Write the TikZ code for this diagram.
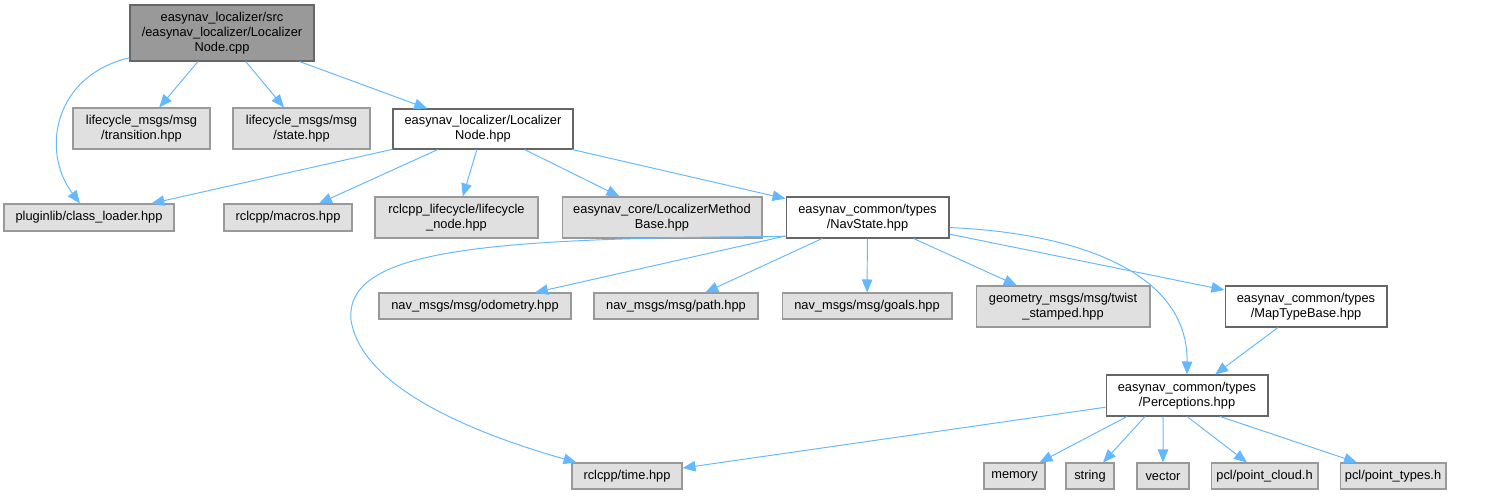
\documentclass[tikz,border=0pt]{standalone}
\usepackage{fontspec}
\setmainfont{Liberation Sans}
\usepackage{xcolor}
\usepackage{tikz}
\usetikzlibrary{arrows.meta}

\definecolor{edgeblue}{HTML}{63B8FF}
\definecolor{incfill}{HTML}{E0E0E0}
\definecolor{incdraw}{HTML}{999999}
\definecolor{hdrdraw}{HTML}{666666}
\definecolor{rootfill}{HTML}{999999}

\begin{document}
\begin{tikzpicture}[x=0.02cm, y=-0.02cm,
    every node/.style={font=\fontsize{7.3}{8.5}\selectfont, align=center, inner sep=0pt, line width=0.6pt},
    sysinc/.style={fill=incfill, draw=incdraw},
    localinc/.style={fill=white, draw=hdrdraw},
    rootfile/.style={fill=rootfill, draw=hdrdraw},
    dep/.style={draw=edgeblue, line width=0.55pt, -{Triangle[length=0.26cm, width=0.21cm]}}]
    \useasboundingbox (0, 0) rectangle (1507, 495);

    % Root file
    \node[rootfile, minimum width=3.68cm, minimum height=1.12cm] (cpp) at (222, 33)
    {easynav\_localizer/src\\/easynav\_localizer/Localizer\\Node.cpp};

    % First level
    \node[sysinc, minimum width=2.74cm, minimum height=0.82cm] (transition) at (141.5, 128.5)
    {lifecycle\_msgs/msg\\/transition.hpp};
    \node[sysinc, minimum width=2.74cm, minimum height=0.82cm] (state) at (301.5, 128.5)
    {lifecycle\_msgs/msg\\/state.hpp};
    \node[localinc, minimum width=3.6cm, minimum height=0.8cm] (lnode) at (483, 129)
    {easynav\_localizer/Localizer\\Node.hpp};

    % Second level
    \node[sysinc, minimum width=3.4cm, minimum height=0.54cm] (classloader) at (89, 217.5)
    {pluginlib/class\_loader.hpp};
    \node[sysinc, minimum width=2.56cm, minimum height=0.54cm] (macros) at (288, 217.5)
    {rclcpp/macros.hpp};
    \node[sysinc, minimum width=3.26cm, minimum height=0.82cm] (lifecycle) at (456.5, 217.5)
    {rclcpp\_lifecycle/lifecycle\\\_node.hpp};
    \node[sysinc, minimum width=4.0cm, minimum height=0.82cm] (methodbase) at (662, 217.5)
    {easynav\_core/LocalizerMethod\\Base.hpp};
    \node[localinc, minimum width=3.26cm, minimum height=0.82cm] (navstate) at (867.5, 217.5)
    {easynav\_common/types\\/NavState.hpp};

    % Third level
    \node[sysinc, minimum width=3.84cm, minimum height=0.52cm] (odometry) at (475, 306)
    {nav\_msgs/msg/odometry.hpp};
    \node[sysinc, minimum width=3.28cm, minimum height=0.52cm] (path) at (676, 306)
    {nav\_msgs/msg/path.hpp};
    \node[sysinc, minimum width=3.4cm, minimum height=0.52cm] (goals) at (867, 306)
    {nav\_msgs/msg/goals.hpp};
    \node[sysinc, minimum width=3.48cm, minimum height=0.82cm] (twist) at (1063, 306.5)
    {geometry\_msgs/msg/twist\\\_stamped.hpp};
    \node[localinc, minimum width=3.24cm, minimum height=0.82cm] (maptype) at (1306, 306.5)
    {easynav\_common/types\\/MapTypeBase.hpp};

    % Fourth level
    \node[localinc, minimum width=3.24cm, minimum height=0.82cm] (perceptions) at (1187, 395.5)
    {easynav\_common/types\\/Perceptions.hpp};

    % Leaves
    \node[sysinc, minimum width=2.2cm, minimum height=0.52cm] (time) at (627, 476) {rclcpp/time.hpp};
    \node[sysinc, minimum width=1.22cm, minimum height=0.52cm] (memory) at (1014.5, 476) {memory};
    \node[sysinc, minimum width=0.96cm, minimum height=0.52cm] (string) at (1090, 476) {string};
    \node[sysinc, minimum width=1.04cm, minimum height=0.52cm] (vector) at (1163, 476) {vector};
    \node[sysinc, minimum width=2.14cm, minimum height=0.52cm] (pointcloud) at (1264.5, 476) {pcl/point\_cloud.h};
    \node[sysinc, minimum width=2.12cm, minimum height=0.52cm] (pointtypes) at (1393, 476) {pcl/point\_types.h};

    % Edges from the root file
    \draw[dep] (cpp.195) .. controls (55, 75) and (40, 150) .. ([xshift=-0.18cm]classloader.north);
    \draw[dep] (cpp) -- (transition);
    \draw[dep] (cpp) -- (state);
    \draw[dep] (cpp) -- (lnode);

    % Edges from LocalizerNode.hpp
    \draw[dep] (lnode) -- (classloader);
    \draw[dep] (lnode) -- (macros);
    \draw[dep] (lnode) -- (lifecycle);
    \draw[dep] (lnode) -- (methodbase);
    \draw[dep] (lnode) -- (navstate);

    % Edges from NavState.hpp
    \draw[dep] (navstate.193) .. controls (480, 238) and (345, 250) .. (351, 320)
    .. controls (362, 390) and (480, 435) .. ([xshift=0.1cm]time.north west);
    \draw[dep] (navstate) -- (odometry);
    \draw[dep] (navstate) -- (path);
    \draw[dep] (navstate) -- (goals);
    \draw[dep] (navstate) -- (twist);
    \draw[dep] (navstate) -- (maptype);
    \draw[dep] (navstate.-7) .. controls (1060, 232) and (1188, 265) .. (perceptions.north);

    % Edges from MapTypeBase.hpp
    \draw[dep] (maptype) -- (perceptions);

    % Edges from Perceptions.hpp
    \draw[dep] (perceptions) -- (time);
    \draw[dep] ([xshift=-1.2cm]perceptions.south) -- ([xshift=0.5cm]memory.north);
    \draw[dep] ([xshift=-0.84cm]perceptions.south) -- ([xshift=0.26cm]string.north);
    \draw[dep] ([xshift=-0.48cm]perceptions.south) -- (vector.north);
    \draw[dep] (perceptions.south) -- ([xshift=-0.35cm]pointcloud.north);
    \draw[dep] ([xshift=0.66cm]perceptions.south) -- ([xshift=-0.72cm]pointtypes.north);
\end{tikzpicture}
\end{document}
